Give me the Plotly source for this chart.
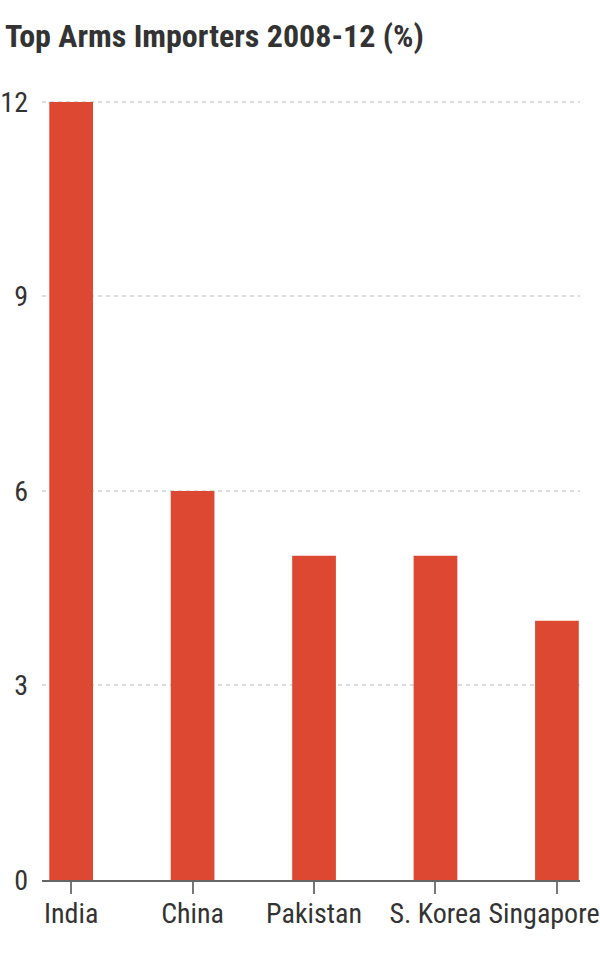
import plotly.graph_objects as go

countries = ['India', 'China', 'Pakistan', 'S. Korea', 'Singapore']
share_pct = [12, 6, 5, 5, 4]
y_ticks = [0, 3, 6, 9, 12]
# the last label sits nudged left in the original so it stays inside the window
x_tick_labels = ['India', 'China', 'Pakistan', 'S. Korea', 'Singapore\u00a0\u00a0\u00a0\u00a0']

font_narrow = 'Roboto Condensed, Liberation Sans Narrow, sans-serif'
bar_color = '#dd4832'
text_color = '#333333'

fig = go.Figure()
fig.add_trace(go.Bar(x=countries, y=share_pct, marker=dict(color=bar_color, line=dict(width=0)),
                     hoverinfo='x+y'))

fig.update_layout(
    width=600,
    height=960,
    margin=dict(l=42, r=20, t=100, b=80),
    paper_bgcolor='white',
    plot_bgcolor='white',
    bargap=0.64,
    showlegend=False,
    font=dict(family=font_narrow, size=28, color=text_color),
)

fig.add_annotation(text='<b>Top Arms Importers 2008-12 (%)</b>', xref='paper', yref='paper',
                   x=0, y=1, xanchor='left', yanchor='middle', xshift=-39, yshift=64,
                   showarrow=False, font=dict(family=font_narrow, size=32, color=text_color))

fig.update_xaxes(
    type='category',
    range=[-0.24, 4.19],
    automargin=False,
    tickangle=0,
    tickvals=countries,
    ticktext=x_tick_labels,
    showline=True, linecolor='#666666', linewidth=2,
    ticks='outside', ticklen=12, tickcolor='#777777', tickwidth=2,
    showgrid=False,
    ticklabelstandoff=-5,
    tickfont=dict(family=font_narrow, size=28, color=text_color),
)

fig.update_yaxes(
    range=[0, 12.03],
    automargin=False,
    tickvals=y_ticks,
    ticktext=[str(v) for v in y_ticks],
    showline=False, zeroline=False,
    showgrid=True, gridcolor='#dddddd', gridwidth=1.5, griddash='4px,4px',
    ticklabelstandoff=13,
    tickfont=dict(family=font_narrow, size=28, color=text_color),
)

# drop the browser's default 8px body margin so the chart fills the window edge to edge
fig.write_html('out.html', config={'displayModeBar': False},
               post_script="document.body.style.margin='0';")
